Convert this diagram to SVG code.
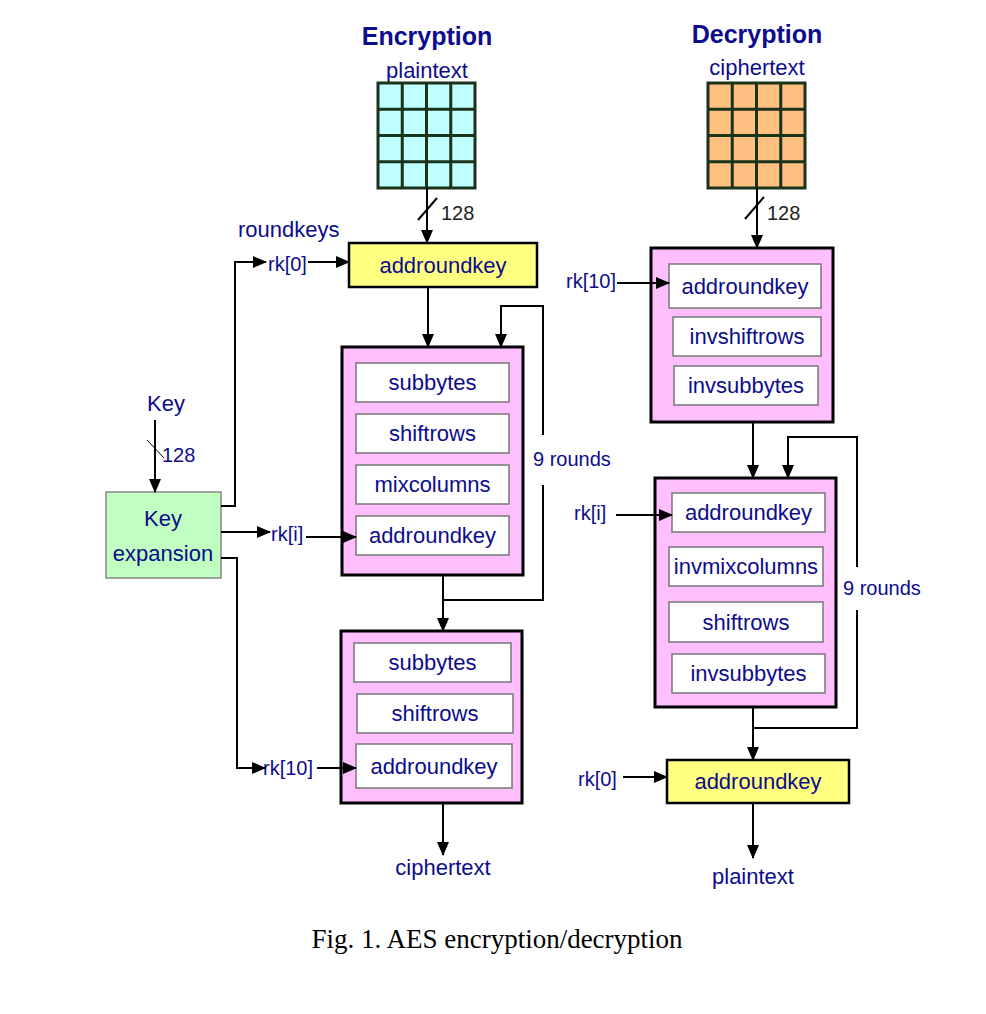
<svg xmlns="http://www.w3.org/2000/svg" width="986" height="1014" viewBox="0 0 986 1014">
<defs>
<marker id="ah" markerUnits="userSpaceOnUse" markerWidth="14" markerHeight="12" refX="13" refY="6" orient="auto">
<path d="M0,0 L14,6 L0,12 Z" fill="#000"/>
</marker>
<style>
.t{font-family:"Liberation Sans",Arial,sans-serif;fill:#0c0c8c;font-size:22px}
.c{text-anchor:middle}
.title{font-weight:bold;font-size:25px}
.s{font-size:20px}
.n{font-family:"Liberation Sans",Arial,sans-serif;fill:#222;font-size:20px}
.pink{fill:#ffbfff;stroke:#000;stroke-width:3}
.yel{fill:#ffff80;stroke:#000;stroke-width:2.5}
.inner{fill:#fff;stroke:#777;stroke-width:1.5}
.grid{stroke:#1a331a;stroke-width:3}
.w{fill:none;stroke:#000;stroke-width:2}
.thin{fill:none;stroke:#000;stroke-width:1}
.cap{font-family:"Liberation Serif","Times New Roman",serif;font-size:27px;fill:#000;text-anchor:middle}
</style>
</defs>
<rect width="986" height="1014" fill="#fff"/>

<g id="enc-title">
<text class="t c title" x="427" y="45">Encryption</text>
<text class="t c" x="427" y="78">plaintext</text>
</g>

<g id="plaintext-grid">
<rect x="378" y="83" width="97" height="105" fill="#bfffff" class="grid"/>
<path class="grid" d="M402.25,83 V188 M426.5,83 V188 M450.75,83 V188 M378,109.25 H475 M378,135.5 H475 M378,161.75 H475"/>
</g>

<g id="enc-labels">
<text class="n" x="441" y="220">128</text>
<text class="t" x="238" y="237">roundkeys</text>
<text class="t s" x="268" y="271">rk[0]</text>
<text class="t s" x="271" y="541">rk[i]</text>
<text class="t s" x="263" y="775">rk[10]</text>
<text class="t s" x="533" y="466">9 rounds</text>
<text class="t c" x="443" y="875">ciphertext</text>
</g>

<g id="enc-addroundkey">
<rect class="yel" x="349" y="243" width="188" height="44"/>
<text class="t c" x="443" y="273">addroundkey</text>
</g>

<g id="key-input">
<text class="t c" x="166" y="411">Key</text>
<text class="t s" x="162" y="462">128</text>
</g>

<g id="key-expansion">
<rect x="106" y="492" width="115" height="86" fill="#c0ffc0" stroke="#888" stroke-width="1.5"/>
<text class="t c" x="163" y="526">Key</text>
<text class="t c" x="163" y="561">expansion</text>
</g>

<g id="enc-round">
<rect class="pink" x="342" y="347" width="181" height="228"/>
<rect class="inner" x="356" y="363" width="153" height="39"/>
<text class="t c" x="432.5" y="390">subbytes</text>
<rect class="inner" x="356" y="414" width="153" height="39"/>
<text class="t c" x="432.5" y="441">shiftrows</text>
<rect class="inner" x="356" y="465" width="153" height="39"/>
<text class="t c" x="432.5" y="492">mixcolumns</text>
<rect class="inner" x="356" y="516" width="153" height="39"/>
<text class="t c" x="432.5" y="543">addroundkey</text>
</g>

<g id="enc-final">
<rect class="pink" x="341" y="631" width="181" height="172"/>
<rect class="inner" x="354" y="643" width="157" height="39"/>
<text class="t c" x="432.5" y="670">subbytes</text>
<rect class="inner" x="357" y="694" width="156" height="39"/>
<text class="t c" x="435" y="721">shiftrows</text>
<rect class="inner" x="356" y="744" width="156" height="44"/>
<text class="t c" x="434" y="774">addroundkey</text>
</g>

<g id="dec-title">
<text class="t c title" x="757" y="43">Decryption</text>
<text class="t c" x="757" y="75">ciphertext</text>
</g>

<g id="ciphertext-grid">
<rect x="708" y="83" width="97" height="105" fill="#ffc080" class="grid"/>
<path class="grid" d="M732.25,83 V188 M756.5,83 V188 M780.75,83 V188 M708,109.25 H805 M708,135.5 H805 M708,161.75 H805"/>
</g>

<g id="dec-labels">
<text class="n" x="767" y="220">128</text>
<text class="t s" x="566" y="288">rk[10]</text>
<text class="t s" x="574" y="520">rk[i]</text>
<text class="t s" x="843" y="595">9 rounds</text>
<text class="t s" x="578" y="786">rk[0]</text>
<text class="t c" x="753" y="884">plaintext</text>
</g>

<g id="dec-first">
<rect class="pink" x="651" y="248" width="182" height="174"/>
<rect class="inner" x="669" y="264" width="152" height="44"/>
<text class="t c" x="745" y="294">addroundkey</text>
<rect class="inner" x="673" y="317" width="148" height="39"/>
<text class="t c" x="747" y="344">invshiftrows</text>
<rect class="inner" x="674" y="366" width="144" height="39"/>
<text class="t c" x="746" y="393">invsubbytes</text>
</g>

<g id="dec-round">
<rect class="pink" x="655" y="478" width="181" height="229"/>
<rect class="inner" x="672" y="493" width="153" height="39"/>
<text class="t c" x="748.5" y="520">addroundkey</text>
<rect class="inner" x="669" y="547" width="154" height="39"/>
<text class="t c" x="746" y="574">invmixcolumns</text>
<rect class="inner" x="669" y="602" width="154" height="40"/>
<text class="t c" x="746" y="630">shiftrows</text>
<rect class="inner" x="672" y="654" width="153" height="39"/>
<text class="t c" x="748.5" y="681">invsubbytes</text>
</g>

<g id="dec-addroundkey">
<rect class="yel" x="667" y="760" width="182" height="43"/>
<text class="t c" x="758" y="789">addroundkey</text>
</g>

<g id="caption">
<text class="cap" x="497" y="948">Fig. 1. AES encryption/decryption</text>
</g>

<g id="connectors">
<path class="w" d="M427,188 V243" marker-end="url(#ah)"/>
<path class="w" d="M418,220 L437,198"/>
<path class="w" d="M221,506 H235 V262 H266" marker-end="url(#ah)"/>
<path class="w" d="M308,262 H349" marker-end="url(#ah)"/>
<path class="w" d="M428,287 V347" marker-end="url(#ah)"/>
<path class="w" d="M443,575 V600 H543 V485"/>
<path class="w" d="M543,435 V306 H501 V347" marker-end="url(#ah)"/>
<path class="w" d="M443,600 V631" marker-end="url(#ah)"/>
<path class="w" d="M155,420 V492" marker-end="url(#ah)"/>
<path class="thin" d="M147,440 L164,458"/>
<path class="w" d="M221,532 H270" marker-end="url(#ah)"/>
<path class="w" d="M306,537 H356" marker-end="url(#ah)"/>
<path class="w" d="M221,558 H237 V768 H265" marker-end="url(#ah)"/>
<path class="w" d="M317,768 H356" marker-end="url(#ah)"/>
<path class="w" d="M443,803 V855" marker-end="url(#ah)"/>

<path class="w" d="M757,188 V248" marker-end="url(#ah)"/>
<path class="w" d="M745,219 L764,197"/>
<path class="w" d="M617,283 H669" marker-end="url(#ah)"/>
<path class="w" d="M753,422 V478" marker-end="url(#ah)"/>
<path class="w" d="M616,515 H672" marker-end="url(#ah)"/>
<path class="w" d="M753,707 V728 H857 V610"/>
<path class="w" d="M857,567 V437 H788 V478" marker-end="url(#ah)"/>
<path class="w" d="M753,728 V760" marker-end="url(#ah)"/>
<path class="w" d="M623,777 H667" marker-end="url(#ah)"/>
<path class="w" d="M753,803 V858" marker-end="url(#ah)"/>
</g>
</svg>
